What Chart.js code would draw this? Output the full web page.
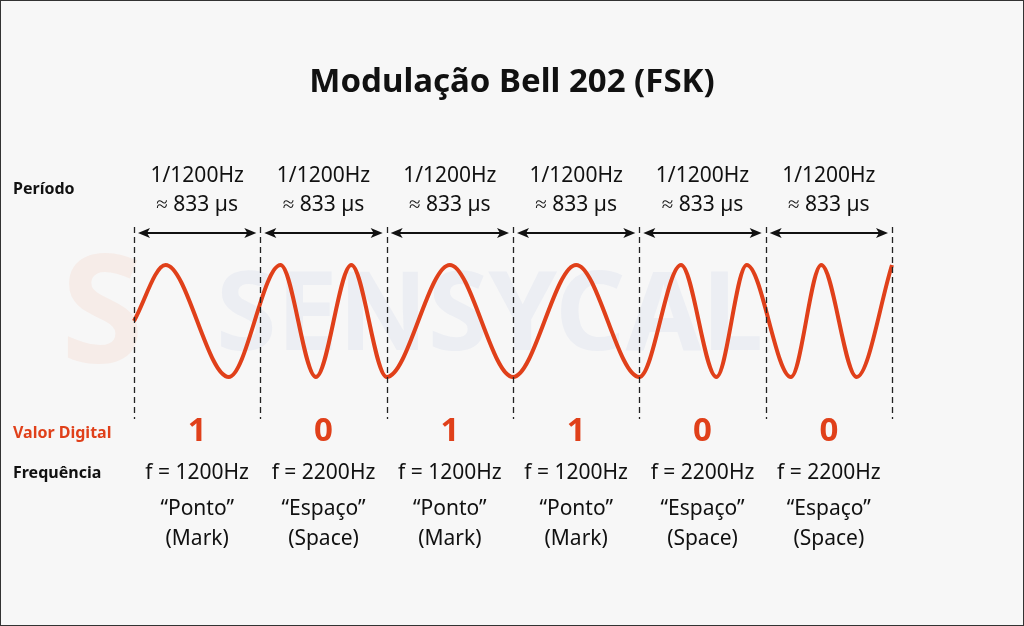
<!DOCTYPE html>
<html><head><meta charset="utf-8">
<script src="https://cdn.jsdelivr.net/npm/chart.js@4/dist/chart.umd.min.js"></script>
<style>html,body{margin:0;padding:0;background:#fff}#w{position:absolute;left:0;top:0;width:1022px;height:624px;border:1px solid #333;background:#f7f7f7}</style>
</head><body><div id="w"><canvas id="c" width="1022" height="624"></canvas></div>
<script>
const title = "Modulação Bell 202 (FSK)";
const bits = ["1","0","1","1","0","0"];
const freqs = ["f = 1200Hz","f = 2200Hz","f = 1200Hz","f = 1200Hz","f = 2200Hz","f = 2200Hz"];
const names = ["“Ponto”","“Espaço”","“Ponto”","“Ponto”","“Espaço”","“Espaço”"];
const namesEn = ["(Mark)","(Space)","(Mark)","(Mark)","(Space)","(Space)"];
const periodLine1 = "1/1200Hz";
const periodLine2 = "≈ 833 µs";
const waveT = [0,0.25,0.75,1.16,1.44,1.72,2.0,2.5,3.0,3.5,4.0,4.33,4.61,4.85,5.2,5.44,5.72,6.0];
const waveY = [0,1,-1,1,-1,1,-1,1,-1,1,-1,1,-1,1,-1,1,-1,1];
const RED = "#e0401a";
const overlay = {
  id:"overlay",
  beforeDatasetsDraw(ch){
    const c=ch.ctx; c.save();
    c.font="bold 110px 'Noto Sans'"; c.fillStyle="rgba(120,140,200,0.08)";
    c.textBaseline="middle"; c.textAlign="left";
    c.fillText("SENSYCAL",215,318);
    c.font="bold 150px 'Noto Sans'"; c.fillStyle="rgba(240,130,90,0.09)";
    c.fillText("S",60,318);
    c.restore();
  },
  afterDraw(ch){
    const c=ch.ctx, xs=ch.scales.x; c.save();
    c.fillStyle="#111"; c.textAlign="center"; c.textBaseline="middle";
    c.font="bold 33px 'Noto Sans'"; c.fillText(title,511,82);
    c.textAlign="left"; c.font="bold 16px 'Noto Sans'";
    c.fillText("Período",12,188);
    c.fillText("Frequência",12,472);
    c.fillStyle=RED; c.fillText("Valor Digital",12,432);
    c.strokeStyle="#222"; c.lineWidth=1.3; c.setLineDash([6,4]);
    for(let i=0;i<=6;i++){const x=Math.round(xs.getPixelForValue(i))+0.5;c.beginPath();c.moveTo(x,226);c.lineTo(x,418);c.stroke();}
    c.setLineDash([]);
    for(let i=0;i<6;i++){
      const a=xs.getPixelForValue(i)+4,b=xs.getPixelForValue(i+1)-4,y=232;
      c.strokeStyle="#111";c.lineWidth=1.8;c.beginPath();c.moveTo(a+6,y);c.lineTo(b-6,y);c.stroke();
      c.fillStyle="#111";
      c.beginPath();c.moveTo(a,y);c.lineTo(a+12,y-5);c.lineTo(a+9,y);c.lineTo(a+12,y+5);c.fill();
      c.beginPath();c.moveTo(b,y);c.lineTo(b-12,y-5);c.lineTo(b-9,y);c.lineTo(b-12,y+5);c.fill();
      const cx=xs.getPixelForValue(i+0.5);
      c.textAlign="center";c.font="21px 'Noto Sans'";c.fillStyle="#111";
      c.fillText(periodLine1,cx,175);c.fillText(periodLine2,cx,204);
      c.fillText(freqs[i],cx,472);c.fillText(names[i],cx,508);c.fillText(namesEn[i],cx,538);
      c.font="bold 33px 'Noto Sans'";c.fillStyle=RED;c.fillText(bits[i],cx,431);
    }
    c.restore();
  }
};
new Chart(document.getElementById("c"),{
  type:"line",
  data:{datasets:[{data:waveT.map((t,i)=>({x:t,y:waveY[i]})),borderColor:RED,borderWidth:4,pointRadius:0,cubicInterpolationMode:"monotone",clip:false}]},
  options:{responsive:false,animation:false,layout:{padding:{left:133,right:131,top:264,bottom:248}},
    plugins:{legend:{display:false},tooltip:{enabled:false}},
    scales:{x:{type:"linear",min:0,max:6,display:false},y:{min:-1,max:1,display:false}}},
  plugins:[overlay]
});
</script></body></html>
